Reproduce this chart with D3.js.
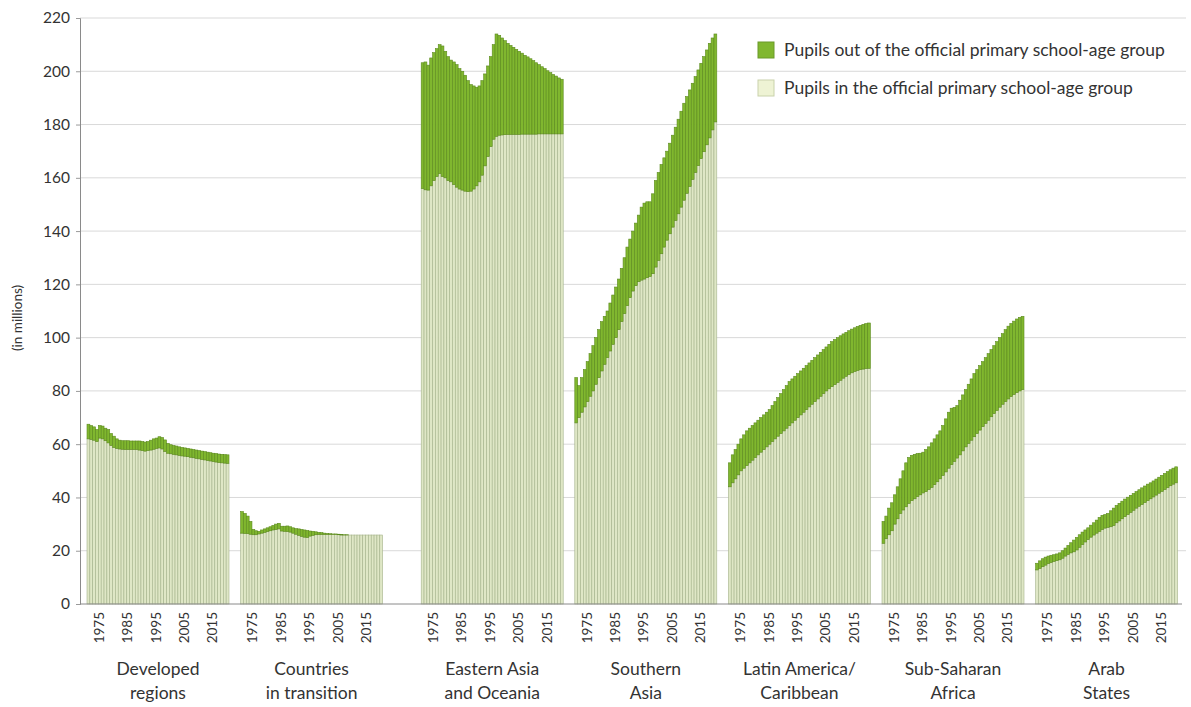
<!DOCTYPE html>
<html>
<head>
<meta charset="utf-8">
<script src="https://cdn.jsdelivr.net/npm/d3@7"></script>
<style>
  html, body { margin: 0; padding: 0; background: #ffffff; }
  svg { display: block; font-family: Lato, "Open Sans", sans-serif; }
</style>
</head>
<body>
<svg id="chart" width="1191" height="707"></svg>
<script>
// ---------- data ----------
const years = [1971,1972,1973,1974,1975,1976,1977,1978,1979,1980,
               1981,1982,1983,1984,1985,1986,1987,1988,1989,1990,
               1991,1992,1993,1994,1995,1996,1997,1998,1999,2000,
               2001,2002,2003,2004,2005,2006,2007,2008,2009,2010,
               2011,2012,2013,2014,2015,2016,2017,2018,2019,2020];
const yearTicks = [1975, 1985, 1995, 2005, 2015];
const yTicks = [0,20,40,60,80,100,120,140,160,180,200,220];

const regions = ["Developed regions","Countries in transition","Eastern Asia and Oceania",
                 "Southern Asia","Latin America/Caribbean","Sub-Saharan Africa","Arab States"];
const regionLabels = [["Developed","regions"],["Countries","in transition"],["Eastern Asia","and Oceania"],
                      ["Southern","Asia"],["Latin America/","Caribbean"],["Sub-Saharan","Africa"],["Arab","States"]];

const legendLabels = ["Pupils out of the official primary school-age group",
                      "Pupils in the official primary school-age group"];

// pupils in the official age group (millions)
const devIn = [62,61.8,61.5,61,62.3,62,61.3,60.5,59.5,58.8,58.4,58.2,58.1,58,58,58,58,58,57.8,57.6,
               57.4,57.6,57.8,58.1,58.4,58.6,58.2,57.3,56.6,56.4,56.2,56,55.8,55.6,55.5,55.3,55.1,54.9,54.7,54.5,
               54.3,54.1,53.9,53.7,53.5,53.3,53.1,53,52.9,52.8];
const devTotal = [67.5,67,66.5,65.5,67,66.8,66,65.5,64,63,62,61.5,61.3,61.3,61.3,61.2,61.2,61.2,61.2,61,
               60.8,61,61.5,62,62.3,62.8,62.5,61.6,60.3,59.8,59.5,59.3,59,58.8,58.6,58.4,58.2,58,57.8,57.6,
               57.4,57.2,57,56.8,56.6,56.5,56.3,56.2,56.1,56];

const traIn = [26.6,26.5,26.4,26.2,26,26,26.3,26.6,26.9,27.2,27.5,27.8,28,28.2,27.4,27.3,27.2,27,26.6,26.2,
               25.8,25.4,25.1,25,25.5,25.8,26,26.1,26.1,26.1,26.1,26.1,26.1,26.1,26,25.9,25.9,25.9,25.9,25.9,
               25.9,25.9,25.9,25.9,25.9,25.9,25.9,25.9,25.9,25.9];
const traTotal = [34.7,34,33,31,28,27.5,27.3,27.8,28.2,28.6,29,29.5,30,30.3,29.2,29.2,29.3,29,28.6,28.3,
               28.2,28,27.8,27.6,27.4,27.3,27.1,26.9,26.8,26.6,26.5,26.4,26.3,26.3,26.2,26.1,26,26,25.9,25.9,
               25.9,25.9,25.9,25.9,25.9,25.9,25.9,25.9,25.9,25.9];

const easIn = [156,155.5,155.4,157,159,160.5,161.6,160.5,160,159,158.5,157.5,156.5,155.8,155.4,155,154.8,155,155.8,157,
               158.5,161,164.5,168,171.7,174.5,175.6,176,176.1,176.2,176.3,176.3,176.3,176.3,176.3,176.4,176.4,176.4,176.4,176.4,
               176.4,176.5,176.5,176.5,176.5,176.5,176.5,176.5,176.5,176.5];
const easTotal = [203.2,203.5,202.3,205,207,208.5,210,209.5,207.5,205.5,204.2,203.5,202.5,201,200,198.5,196.5,195,194.5,194,
               194.5,196.5,199,202,205.5,210,214,213.5,212.5,211.5,210.5,209.7,209,208.2,207.5,206.8,206,205.4,204.7,204,
               203.2,202.5,201.7,201,200.2,199.5,198.8,198.2,197.5,197];

const sasIn = [68,70,72,74,76,78,80,82.5,85,87.5,90,92.5,95,97.5,100,103,106,109,112,115,
               117.5,119.5,121,121.6,122,122.5,123,124,126.5,129,131.5,134,136.6,139,141.5,144,146.5,149,151.6,154.2,
               156.8,159.4,162,164.6,167.2,169.8,172.4,175,178,181];
const sasTotal = [85,82,85,88,91,94,97,100,103,106,108,110,113,116,119,122,126,130,134,137,
               140,143,146,149,150.5,151,151,154,159,162,165,167.5,170,173,176,179,182,185,188,190.5,
               193,195.5,198,200.5,203,205.5,208,210.5,212.5,214];

const latIn = [44,45.5,47,48.5,50,51,52,53,54,55,56,57,58,59,60,61,62,63,64,65,
               66,67,68,69,70,71,72,73,74,75,76,77,78,79,80,80.8,81.6,82.4,83.2,84,
               84.8,85.5,86.2,86.8,87.3,87.7,88,88.2,88.4,88.5];
const latTotal = [53,56,58,60,62,63.5,65,66,67,68,69,70,71,72,73,74.5,76,77.5,79,80.5,
               82,83.5,84.5,85.5,86.5,87.5,88.5,89.5,90.5,91.5,92.5,93.5,94.5,95.5,96.5,97.5,98.5,99.3,100,100.7,
               101.4,102,102.6,103.2,103.7,104.2,104.6,105,105.3,105.5];

const ssaIn = [22.8,24.5,26,27.5,30,32,34,35.3,36.5,37.8,38.8,39.5,40.3,41,41.7,42.2,43,43.8,44.8,45.9,
               47,48.3,49.6,51,52.3,53.5,54.8,56,57.5,59,60.3,61.5,62.8,64,65.3,66.6,67.8,69,70.3,71.5,
               72.7,73.9,75,76,77,77.9,78.7,79.4,80,80.5];
const ssaTotal = [31,33,36,38,41,44,47,50,53,55,55.8,56.2,56.5,56.6,57,58,59,60.5,62,63.5,
               65,67,69.5,72,73.5,73.8,74.5,76.5,78.5,80.5,82.5,84.5,86.5,88,89.5,91,92.5,94,95.5,97,
               98.5,100,101.5,103,104.3,105.3,106.2,107,107.6,108];

const arbIn = [12.8,13.4,14,14.6,15.2,15.6,16,16.3,16.6,17.2,18,18.6,19.2,19.6,20.3,21.3,22.3,23.3,24.2,25.1,
               25.9,26.6,27.3,28,28.5,28.8,29,29.5,30.5,31.2,32,32.8,33.6,34.4,35.2,36,36.7,37.4,38.1,38.8,
               39.5,40.2,40.9,41.6,42.3,43,43.7,44.4,45,45.5];
const arbTotal = [15.3,16.2,17,17.6,18,18.3,18.5,18.8,19.2,20,21,22,23,24,25,26,27,27.8,28.6,29.6,
               30.5,31.5,32.5,33.3,33.6,34,35,36,37,37.8,38.6,39.4,40.1,40.8,41.5,42.2,42.9,43.6,44.3,45,
               45.5,46.2,46.9,47.6,48.3,49,49.7,50.4,51,51.5];

const inAgeSeries = [devIn, traIn, easIn, sasIn, latIn, ssaIn, arbIn];
const totalSeries = [devTotal, traTotal, easTotal, sasTotal, latTotal, ssaTotal, arbTotal];

// ---------- layout ----------
const svg = d3.select("#chart");
const axisX = 80, plotRight = 1186;
const y = d3.scaleLinear().domain([0, 220]).range([604, 18]);

const groupWidth = 142;
const groupStep = 153.6;
const extraGap = 27;
const groupStart = i => 87 + i * groupStep + (i >= 2 ? extraGap : 0);
const xYear = d3.scaleBand().domain(years).range([0, groupWidth]).padding(0);

const LIGHT = "#dfe7c6", LIGHT_STROKE = "#a4b38b";
const DARK = "#80b72f", DARK_STROKE = "#5b8a1d";

// gridlines
svg.append("g").selectAll("line").data(yTicks.filter(t => t > 0)).join("line")
  .attr("x1", axisX).attr("x2", plotRight)
  .attr("y1", d => y(d)).attr("y2", d => y(d))
  .attr("stroke", "#d9d9d9").attr("stroke-width", 1);

// bars
regions.forEach((r, gi) => {
  const g = svg.append("g").attr("transform", `translate(${groupStart(gi)},0)`);
  const rows = years.map((yr, k) => ({ year: yr, inAge: inAgeSeries[gi][k], outAge: Math.max(0, totalSeries[gi][k] - inAgeSeries[gi][k]) }));
  const stacked = d3.stack().keys(["inAge", "outAge"])(rows);
  // in-age
  g.append("g").selectAll("rect").data(stacked[0]).join("rect")
    .attr("x", d => xYear(d.data.year))
    .attr("width", xYear.bandwidth())
    .attr("y", d => y(d[1]))
    .attr("height", d => y(d[0]) - y(d[1]))
    .attr("fill", LIGHT).attr("stroke", LIGHT_STROKE).attr("stroke-width", 0.6);
  // out-of-age
  g.append("g").selectAll("rect").data(stacked[1].filter(d => d[1] - d[0] > 0.05)).join("rect")
    .attr("x", d => xYear(d.data.year))
    .attr("width", xYear.bandwidth())
    .attr("y", d => y(d[1]))
    .attr("height", d => y(d[0]) - y(d[1]))
    .attr("fill", DARK).attr("stroke", DARK_STROKE).attr("stroke-width", 0.6);

  // year tick labels
  g.append("g").selectAll("text").data(yearTicks).join("text")
    .attr("transform", d => `translate(${xYear(d) + xYear.bandwidth() / 2 + 4},612) rotate(-90)`)
    .attr("text-anchor", "end")
    .attr("font-size", 13.5).attr("fill", "#333")
    .text(d => d);

  // region label
  const lbl = g.append("text").attr("text-anchor", "middle").attr("font-size", 17.5).attr("fill", "#333");
  regionLabels[gi].forEach((line, li) => {
    lbl.append("tspan").attr("x", groupWidth / 2).attr("y", 675 + li * 24).text(line);
  });
});

// y axis
const yAxis = d3.axisLeft(y).tickValues(yTicks).tickSize(4).tickPadding(6);
const ya = svg.append("g").attr("transform", `translate(${axisX},0)`).call(yAxis);
ya.select(".domain").attr("stroke", "#8a8a8a");
ya.selectAll(".tick line").attr("stroke", "#9a9a9a");
ya.selectAll(".tick text").attr("font-size", 15.5).attr("fill", "#333").attr("font-family", "Lato, sans-serif");

// x baseline
svg.append("line").attr("x1", axisX).attr("x2", 1182).attr("y1", y(0)).attr("y2", y(0))
  .attr("stroke", "#8a8a8a").attr("stroke-width", 1);

// y title
svg.append("text").attr("transform", `translate(22,318) rotate(-90)`)
  .attr("text-anchor", "middle").attr("font-size", 13.5).attr("fill", "#333")
  .text("(in millions)");

// legend
const legend = svg.append("g").attr("transform", "translate(758,42)");
[[DARK, "#6a9a2a"], ["#eef3d4", "#c9d2ab"]].forEach((c, i) => {
  legend.append("rect").attr("x", 0).attr("y", i * 38).attr("width", 16).attr("height", 16)
    .attr("fill", c[0]).attr("stroke", c[1]).attr("stroke-width", 1);
  legend.append("text").attr("x", 26).attr("y", i * 38 + 14)
    .attr("font-size", 17.5).attr("fill", "#333").text(legendLabels[i]);
});
</script>
</body>
</html>
